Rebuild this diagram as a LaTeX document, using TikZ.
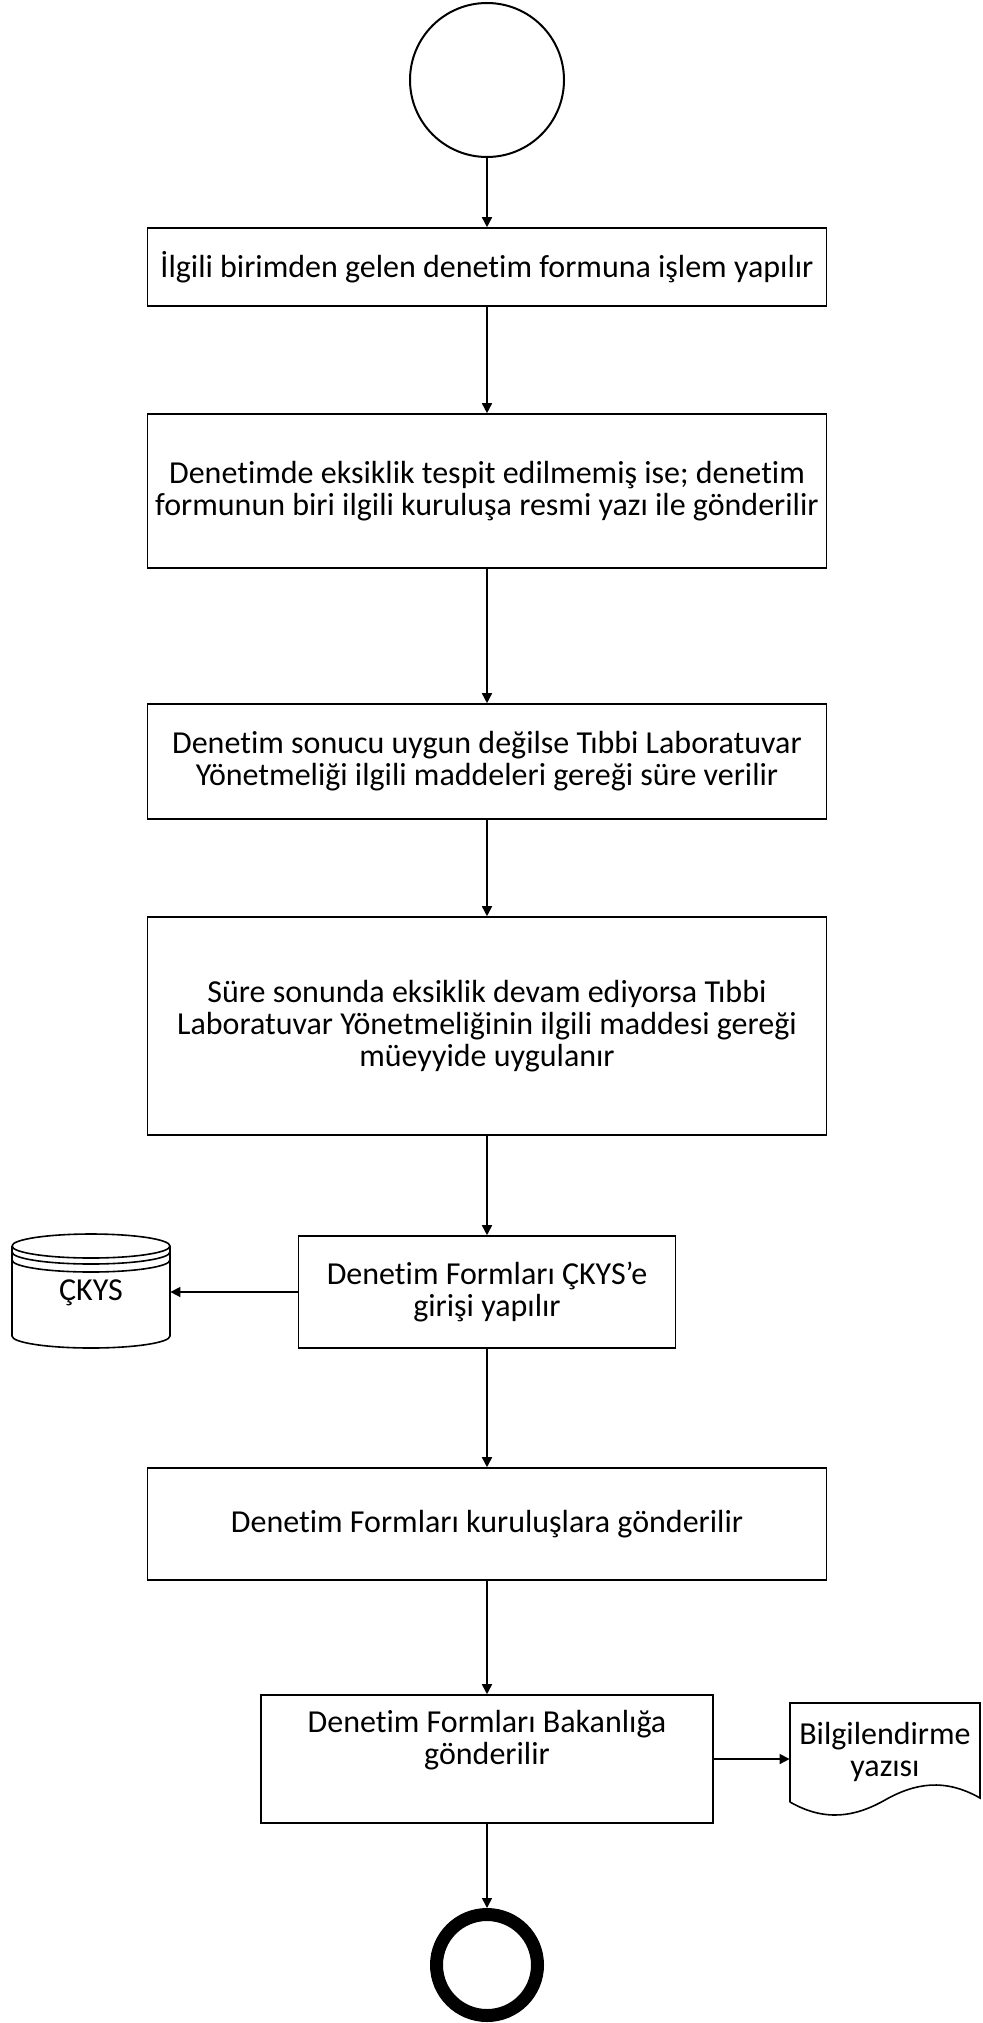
\documentclass[tikz,border=0pt]{standalone}
\usepackage{fontspec}
\setmainfont{Carlito}[RawFeature=-liga]
\usetikzlibrary{positioning,arrows.meta}

\begin{document}
\begin{tikzpicture}[x=0.5pt,y=0.5pt,
box/.style={rectangle,draw=black,line width=0.8pt,fill=white,
minimum width=339.5pt,minimum height=39pt,align=center,font=\fontsize{16}{16}\selectfont},
txt/.style={align=center,font=\fontsize{16}{16}\selectfont,inner sep=0pt},
arrow/.style={-{Triangle[length=5pt,width=5pt]},line width=0.8pt}
]
\useasboundingbox (0,0) rectangle (983,-2023);
% start and end
\node[circle,draw,line width=1pt,minimum size=77pt,inner sep=0pt] (start) at (487,-80) {};
\node[circle,draw,line width=6.5pt,minimum size=50.5pt,inner sep=0pt,outer sep=3.25pt] (stop) at (487,-1965) {};
% main steps
\node[box] (a) at (487,-267) {İlgili birimden gelen denetim formuna işlem yapılır};
\node[box,minimum height=77pt] (b) at (487,-491) {Denetimde eksiklik tespit edilmemiş ise; denetim\\formunun biri ilgili kuruluşa resmi yazı ile gönderilir};
\node[box,minimum height=57.5pt] (c) at (487,-761.5) {Denetim sonucu uygun değilse Tıbbi Laboratuvar\\Yönetmeliği ilgili maddeleri gereği süre verilir};
\node[box,minimum height=109pt] (d) at (487,-1026) {Süre sonunda eksiklik devam ediyorsa Tıbbi\\Laboratuvar Yönetmeliğinin ilgili maddesi gereği\\müeyyide uygulanır};
\node[box,minimum width=188.5pt,minimum height=56pt] (e) at (487,-1292) {Denetim Formları ÇKYS’e\\girişi yapılır};
\node[box,minimum height=56pt] (f) at (487,-1524) {Denetim Formları kuruluşlara gönderilir};
\node[box,minimum width=226pt,minimum height=64pt] (g) at (487,-1759) {Denetim Formları Bakanlığa\\gönderilir\\[6pt]~};
% database
\draw[line width=0.8pt,fill=white] (12,-1246) -- (12,-1336) arc[start angle=180,end angle=360,x radius=79,y radius=12]
  -- (170,-1246) arc[start angle=0,end angle=180,x radius=79,y radius=12];
\draw[line width=0.8pt] (12,-1246) arc[start angle=180,end angle=360,x radius=79,y radius=12];
\draw[line width=0.8pt] (12,-1252) arc[start angle=180,end angle=360,x radius=79,y radius=12];
\draw[line width=0.8pt] (12,-1260) arc[start angle=180,end angle=360,x radius=79,y radius=12];
\node[txt,minimum width=79pt,minimum height=57pt] (ckys) at (91,-1293) {ÇKYS};
% document
\draw[line width=0.8pt,fill=white] (790,-1802) -- (790,-1703) -- (980,-1703) -- (980,-1798)
  .. controls (945,-1778) and (915,-1783) .. (885,-1800)
  .. controls (855,-1817) and (825,-1822) .. (790,-1802);
\node[txt,minimum width=95pt] (bilgi) at (885,-1752) {Bilgilendirme\\yazısı};
% connectors
\draw[arrow] (start)--(a); \draw[arrow] (a)--(b); \draw[arrow] (b)--(c); \draw[arrow] (c)--(d);
\draw[arrow] (d)--(e); \draw[arrow] (e)--(f); \draw[arrow] (f)--(g); \draw[arrow] (g)--(stop);
\draw[arrow] (e.west)--(e.west -| ckys.east);
\draw[arrow] (g.east)--(g.east -| bilgi.west);
\end{tikzpicture}
\end{document}
